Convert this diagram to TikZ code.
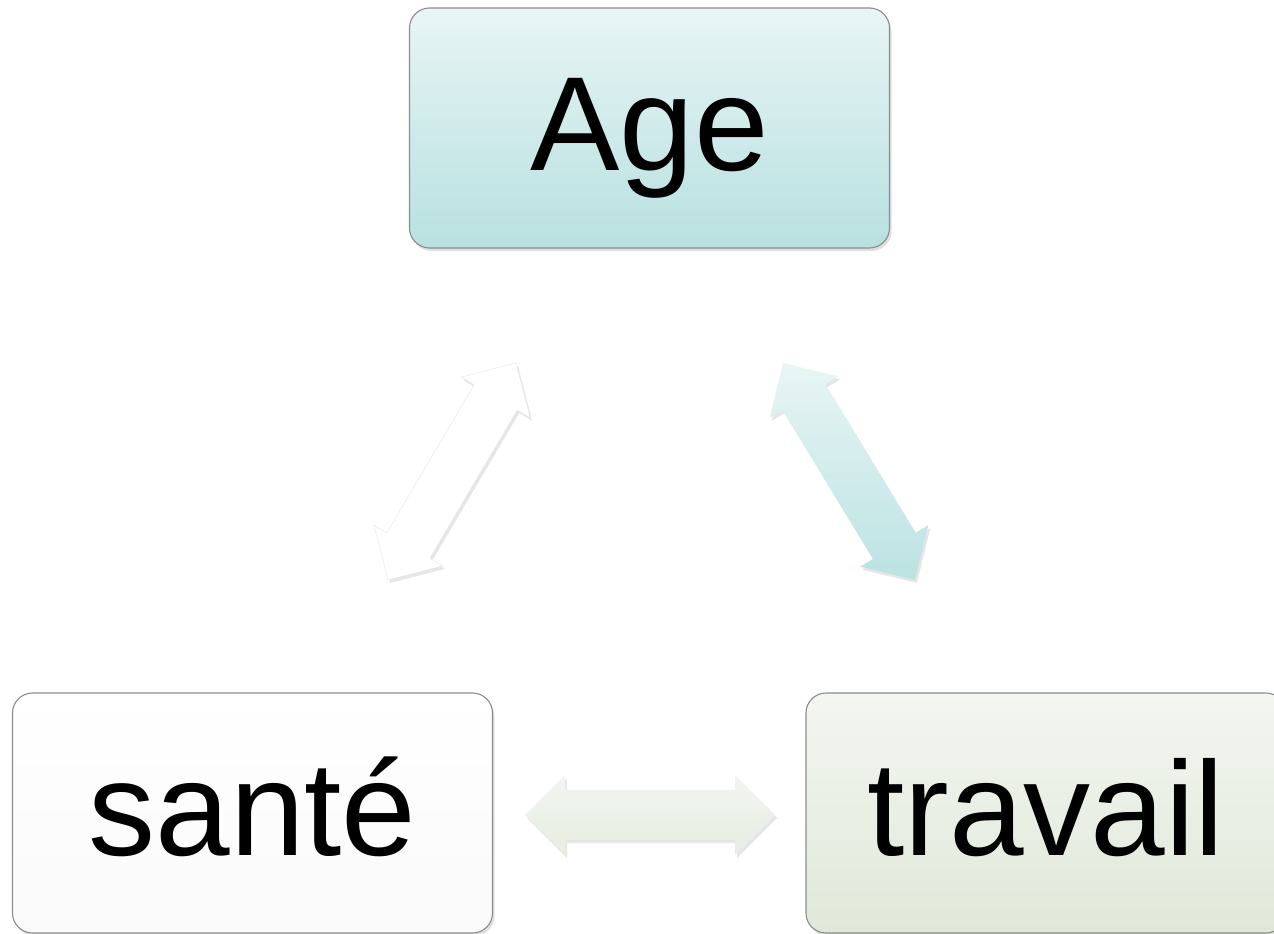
\documentclass[tikz,border=0pt]{standalone}
\usepackage{fontspec}
\setmainfont{Liberation Sans}
\usetikzlibrary{calc,shadows}
\definecolor{boxline}{HTML}{8C8C8C}
\definecolor{agetop}{HTML}{E8F5F5}
\definecolor{agebot}{HTML}{B8E0E0}
\definecolor{travtop}{HTML}{F4F6F1}
\definecolor{travbot}{HTML}{DFE8D9}
\definecolor{arrtop}{HTML}{E8F5F5}
\definecolor{arrbot}{HTML}{BCE2E2}
\definecolor{harrtop}{HTML}{F2F5EF}
\definecolor{harrbot}{HTML}{E6EDE1}
\newcommand\blockarrow[3]{%
  \path[#3] (#1)
    -- ($(#1)!40pt!(#2)!40pt!90:(#2)$)
    -- ($(#1)!40pt!(#2)!25pt!90:(#2)$)
    -- ($(#2)!40pt!(#1)!25pt!-90:(#1)$)
    -- ($(#2)!40pt!(#1)!40pt!-90:(#1)$)
    -- (#2)
    -- ($(#2)!40pt!(#1)!40pt!90:(#1)$)
    -- ($(#2)!40pt!(#1)!25pt!90:(#1)$)
    -- ($(#1)!40pt!(#2)!25pt!-90:(#2)$)
    -- ($(#1)!40pt!(#2)!40pt!-90:(#2)$)
    -- cycle;}
\begin{document}
\begin{tikzpicture}[x=1pt,y=-1pt,
  box/.style={draw=boxline, line width=1.1pt, rounded corners=20pt,
    minimum width=480pt, minimum height=240pt,
    text height=100pt, text depth=16pt,
    font=\fontsize{134}{160}\selectfont,
    drop shadow={shadow xshift=2pt, shadow yshift=-3pt, opacity=0.25}},
  barrow/.style={draw=black!10, line width=0.4pt,
    drop shadow={shadow xshift=2pt, shadow yshift=-3pt, opacity=0.2}},
]
\useasboundingbox (0,0) rectangle (1274,934);
\clip (0,0) rectangle (1274,934);
\node[box, top color=agetop, bottom color=agebot] (age) at (649.5,128) {Age};
\node[box, top color=white, bottom color=black!2] (sante) at (252.5,813) {santé};
\node[box, top color=travtop, bottom color=travbot] (travail) at (1046,813) {travail};
\coordinate (l1) at (516,363);
\coordinate (l2) at (388,580);
\coordinate (r1) at (783,363);
\coordinate (r2) at (915,580);
\coordinate (h1) at (525,815);
\coordinate (h2) at (775,815);
\blockarrow{l1}{l2}{barrow, fill=white}
\blockarrow{r1}{r2}{barrow, draw=none, top color=arrtop, bottom color=arrbot}
\blockarrow{h1}{h2}{barrow, draw=none, top color=harrtop, bottom color=harrbot}
\end{tikzpicture}
\end{document}
